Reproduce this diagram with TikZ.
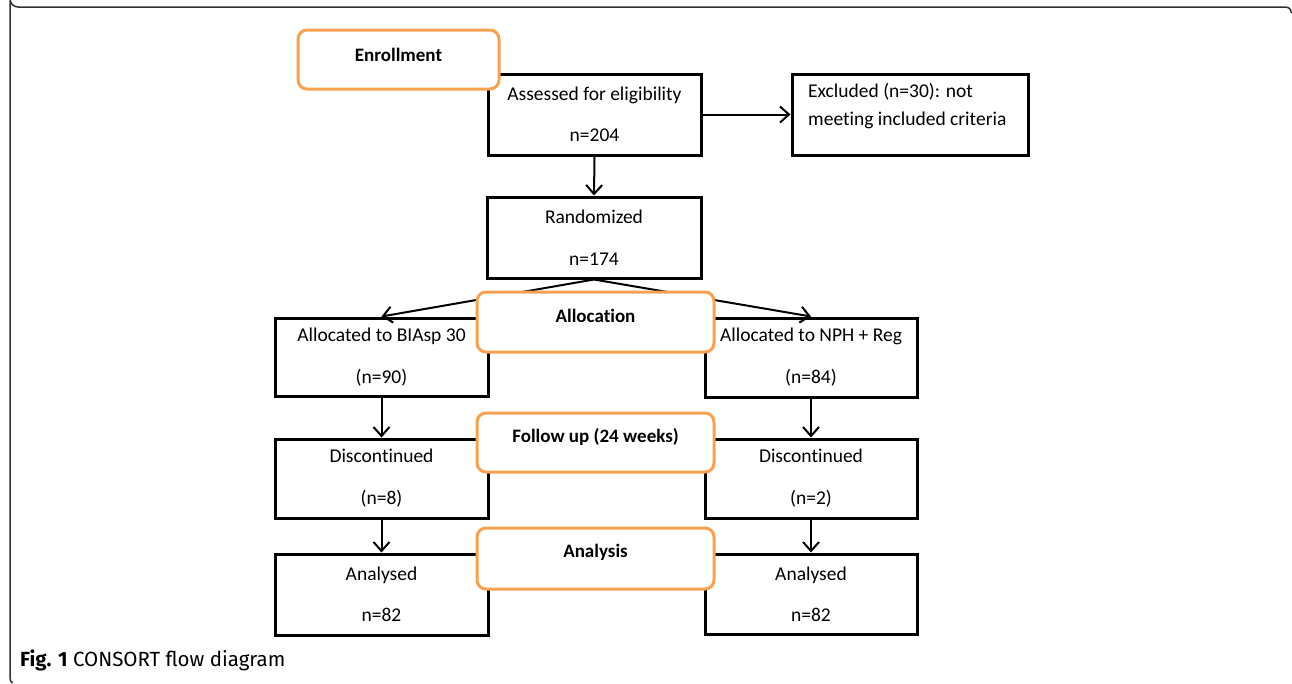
\documentclass[tikz,border=0pt]{standalone}
\usepackage{fontspec}
\setmainfont{Carlito}[Ligatures=NoCommon]
\newfontfamily\capfont{Fira Sans}
\usetikzlibrary{arrows.meta}
\definecolor{orangebox}{RGB}{247,162,82}
\definecolor{framegray}{RGB}{50,50,50}
\tikzset{
  bbox/.style={draw=black, line width=3pt, fill=white, align=center, inner sep=0pt,
    font=\fontsize{19.5}{23}\selectfont},
  obox/.style={draw=orangebox, line width=3pt, fill=white, rounded corners=9pt, inner sep=0pt},
  otext/.style={font=\fontsize{19}{23}\selectfont\bfseries, inner sep=0pt},
  arr/.style={line width=2pt, -{Straight Barb[length=9pt,width=16pt,line width=2pt]}},
  btext/.style={font=\fontsize{19.5}{23}\selectfont, inner sep=0pt, align=left, anchor=north west}
}
\begin{document}
\begin{tikzpicture}[x=1pt,y=-1pt]
\useasboundingbox (0,0) rectangle (1292,683);
\fill[white] (0,0) rectangle (1292,683);
% outer frame
\draw[framegray, line width=1.5pt] (1291.5,13) .. controls (1290.5,8.5) and (1289,7) .. (1284,7)
  -- (18,7) arc[start angle=90, end angle=180, radius=8]
  -- (10,678) .. controls (10,680.5) and (11,682) .. (12.5,683);
% black boxes
\node[bbox, minimum width=213pt, minimum height=81pt] (assess) at (594.5,114.5) {Assessed for eligibility\\[18pt]n=204};
\node[bbox, minimum width=236pt, minimum height=81pt] (excl) at (910,114.5) {};
\node[btext] (exclt) at (808,83) {Excluded (n=30): not\\[5pt]meeting included criteria};
\node[bbox, minimum width=214pt, minimum height=81pt] (rand) at (594,237.5) {Randomized\\[19pt]n=174};
\node[bbox, minimum width=213pt, minimum height=78pt] (al1) at (381.5,357) {Allocated to BIAsp 30\\[19pt](n=90)};
\node[bbox, minimum width=212pt, minimum height=79pt] (al2) at (811,357.5) {Allocated to NPH + Reg\\[19pt](n=84)};
\node[bbox, minimum width=213pt, minimum height=79pt] (dc1) at (381.5,478.5) {Discontinued\\[19pt](n=8)};
\node[bbox, minimum width=212pt, minimum height=79pt] (dc2) at (811,478.5) {Discontinued\\[19pt](n=2)};
\node[bbox, minimum width=213pt, minimum height=81pt] (an1) at (381.5,594.5) {Analysed\\[18pt]n=82};
\node[bbox, minimum width=212pt, minimum height=80pt] (an2) at (811,594) {Analysed\\[18pt]n=82};
% arrows
\draw[arr] (assess.east) -- (excl.west);
\draw[arr] (assess.south) -- (rand.north);
\draw[arr] (rand.south) -- (al1.north);
\draw[arr] (rand.south) -- (al2.north);
\draw[arr] (al1.south) -- (dc1.north);
\draw[arr] (al2.south) -- (dc2.north);
\draw[arr] (dc1.south) -- (an1.north);
\draw[arr] (dc2.south) -- (an2.north);
% orange stage boxes
\node[obox, minimum width=201pt, minimum height=59pt] (enr) at (398.5,59.5) {};
\node[otext] (enrt) at ([yshift=5pt]enr.center) {Enrollment};
\node[obox, minimum width=237pt, minimum height=60pt] (alloc) at (595.5,322) {};
\node[otext] (alloct) at ([yshift=6pt]alloc.center) {Allocation};
\node[obox, minimum width=237pt, minimum height=59pt] (fol) at (595.5,442.5) {};
\node[otext] (folt) at ([yshift=6pt]fol.center) {Follow up (24 weeks)};
\node[obox, minimum width=237pt, minimum height=61pt] (ana) at (595.5,558.5) {};
\node[otext] (anat) at ([yshift=6pt]ana.center) {Analysis};
% caption
\node[anchor=west, inner sep=0pt, font=\capfont\fontsize{20.5}{24}\selectfont] (cap) at (20,660) {\textbf{Fig. 1} CONSORT flow diagram};
\end{tikzpicture}
\end{document}
